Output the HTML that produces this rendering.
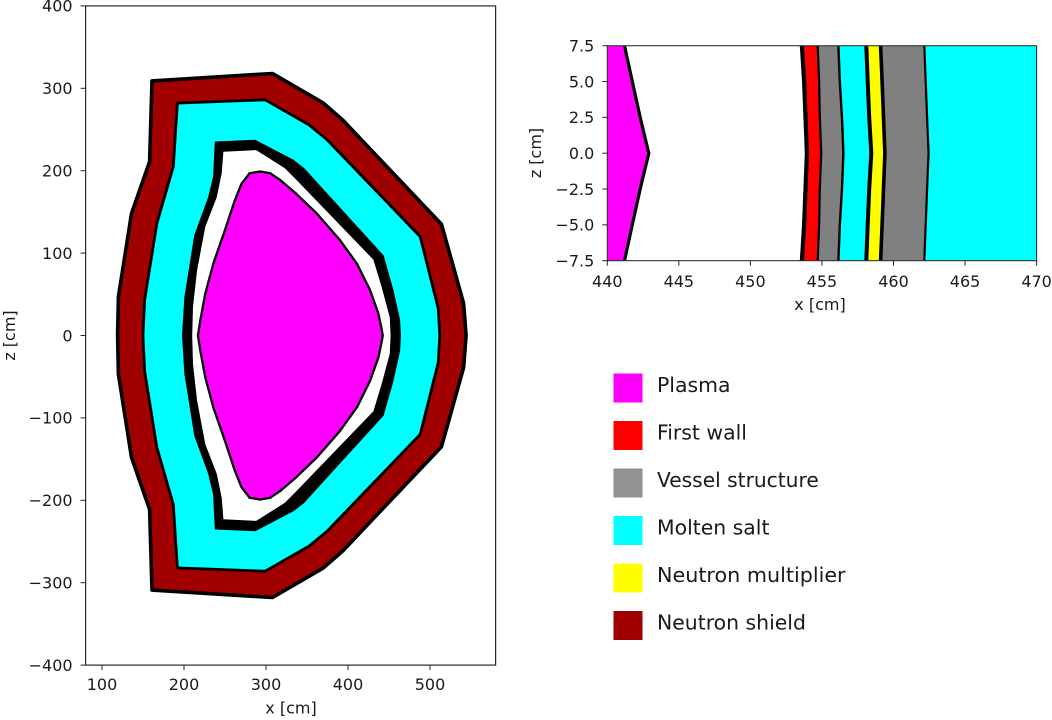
<!DOCTYPE html>
<html>
<head>
<meta charset="utf-8">
<style>
html,body{margin:0;padding:0;background:#fff;}
svg{display:block;filter:blur(0.35px);}
text{font-family:"DejaVu Sans","Liberation Sans",sans-serif;fill:#1a1a1a;}
</style>
</head>
<body>
<svg id="chart" xmlns="http://www.w3.org/2000/svg" width="1052" height="720" viewBox="0 0 1052 720">
  <g id="left-plot"></g>
  <g id="right-plot"></g>
  <g>
    <g><rect x="613.5" y="373.5" width="29" height="29" fill="#ff00ff"/><text x="657" y="392" font-size="20.4">Plasma</text></g>
    <g><rect x="613.5" y="421" width="29" height="29" fill="#ff0000"/><text x="657" y="439.5" font-size="20.4">First wall</text></g>
    <g><rect x="613.5" y="468.5" width="29" height="29" fill="#929292"/><text x="657" y="487" font-size="20.2">Vessel structure</text></g>
    <g><rect x="613.5" y="516" width="29" height="29" fill="#00ffff"/><text x="657" y="534.5" font-size="20.4">Molten salt</text></g>
    <g><rect x="613.5" y="563.5" width="29" height="29" fill="#ffff00"/><text x="657" y="582" font-size="20.7">Neutron multiplier</text></g>
    <g><rect x="613.5" y="611" width="29" height="29" fill="#a00000"/><text x="657" y="629.5" font-size="20.4">Neutron shield</text></g>
  </g>
</svg>
<script>
// ---- Left plot data: [x cm, z cm] outlines ----
const shieldOutline = [[161,309],[308,318],[370,282],[394,261],[514,135],[541,39],[544,0],[541,-39],[514,-135],[394,-261],[370,-282],[308,-318],[161,-309],[158,-211],[136,-148],[120,-47],[119,0],[120,47],[136,148],[158,211]];
const saltOutline = [[192,282],[299,286],[352,256],[374,238],[488,120],[510,33],[512,0],[510,-33],[488,-120],[374,-238],[352,-256],[299,-286],[192,-282],[187,-205],[167,-136],[152,-43],[150,0],[152,43],[167,136],[187,205]];
const vesselOutline = [[238,235],[287,237],[333,213],[346,203],[443,97],[455,55],[463,19],[464,0],[463,-19],[455,-55],[443,-97],[346,-203],[333,-213],[287,-237],[238,-235],[236,-193],[230,-168],[213,-122],[201,-47],[198,0],[201,47],[213,122],[230,168],[236,193]];
const gapOutline = [[248,223],[288,225],[323,203],[337,189],[431,92],[441,59],[451,22],[452,0],[451,-22],[441,-59],[431,-92],[337,-189],[323,-203],[288,-225],[248,-223],[246,-197],[240,-168],[226,-132],[216,-79],[211,-35],[210,0],[211,35],[216,79],[226,132],[240,168],[246,197]];
const plasmaOutline = [[293,199],[305,197],[317,189],[337,172],[362,148],[390,116],[411,87],[427,55],[437,27],[441,8],[442.5,0],[441,-8],[437,-27],[427,-55],[411,-87],[390,-116],[362,-148],[337,-172],[317,-189],[305,-197],[293,-199],[280,-197],[270,-184],[262,-164],[250,-128],[236,-88],[226,-51],[220,-19],[217,0],[220,19],[226,51],[236,88],[250,128],[262,164],[270,184],[280,197]];
const leftXTicks = [100,200,300,400,500];
const leftZTicks = [-400,-300,-200,-100,0,100,200,300,400];

// ---- Right plot data: boundary x [cm] sampled at z [cm] ----
const detailZ = [7.5,5,2.5,0,-2.5,-5,-7.5];
const plasmaEdge = [441.2,441.75,442.3,442.9,442.3,441.75,441.2];
const firstWallInner = [453.6,453.75,453.85,453.95,453.85,453.75,453.6];
const firstWallOuter = [454.7,454.8,454.85,454.95,454.85,454.8,454.7];
const vesselOuter1 = [456.15,456.25,456.4,456.5,456.4,456.25,456.15];
const multiplierInner = [458.1,458.2,458.3,458.45,458.3,458.2,458.1];
const multiplierOuter = [459.1,459.2,459.3,459.4,459.3,459.2,459.1];
const vesselOuter2 = [462.15,462.25,462.35,462.45,462.35,462.25,462.15];
const detailXTicks = [440,445,450,455,460,465,470];
const detailZTicks = [-7.5,-5,-2.5,0,2.5,5,7.5];

const NS = 'http://www.w3.org/2000/svg';
function el(parent, tag, attrs, txt){
  const e = document.createElementNS(NS, tag);
  for (const k in attrs) e.setAttribute(k, attrs[k]);
  if (txt !== undefined) e.textContent = txt;
  parent.appendChild(e);
  return e;
}
function fmt(v, d){ const s = d ? v.toFixed(d) : String(v); return s.replace('-', '\u2212'); }

// axis functions
const lx = v => 102 + (v - 100) * 0.82;
const lz = v => 335.5 - v * 0.824;
const rx = v => 607.3 + (v - 440) * 14.31;
const rz = v => 153.2 - v * 14.33;

const left = document.getElementById('left-plot');
const right = document.getElementById('right-plot');

function outline(list){ return list.map(p => lx(p[0]).toFixed(1) + ',' + lz(p[1]).toFixed(1)).join(' '); }

const shieldPoly = el(left, 'polygon', {points: outline(shieldOutline), fill:'#a00000', stroke:'#000', 'stroke-width':3.6, 'stroke-linejoin':'round'});


const saltPoly = el(left, 'polygon', {points: outline(saltOutline), fill:'#00ffff', stroke:'#000', 'stroke-width':2.8, 'stroke-linejoin':'round'});


const vesselPoly = el(left, 'polygon', {points: outline(vesselOutline), fill:'#000', stroke:'#000', 'stroke-width':0.8, 'stroke-linejoin':'round'});


const gapPoly = el(left, 'polygon', {points: outline(gapOutline), fill:'#fff'});


const plasmaPoly = el(left, 'polygon', {points: outline(plasmaOutline), fill:'#ff00ff', stroke:'#000', 'stroke-width':2.3, 'stroke-linejoin':'round'});



// left axes
const lxMinPx = lx(80), lxMaxPx = lx(580), lzTopPx = lz(400), lzBotPx = lz(-400);
const leftFrame = el(left, 'rect', {x:lxMinPx, y:lzTopPx, width:lxMaxPx-lxMinPx, height:lzBotPx-lzTopPx, fill:'none', stroke:'#2a2a2a', 'stroke-width':1.2});


leftXTicks.forEach(v => {
  const t = el(left, 'line', {x1:lx(v), x2:lx(v), y1:lzBotPx, y2:lzBotPx+5, stroke:'#222', 'stroke-width':1});
  
  
  const l = el(left, 'text', {x:lx(v), y:690, 'font-size':16, 'text-anchor':'middle'}, fmt(v));
  
  
});
leftZTicks.forEach(v => {
  const t = el(left, 'line', {x1:lxMinPx-5, x2:lxMinPx, y1:lz(v), y2:lz(v), stroke:'#222', 'stroke-width':1});
  
  
  const l = el(left, 'text', {x:lxMinPx-13, y:lz(v)+5.8, 'font-size':16, 'text-anchor':'end'}, fmt(v));
  
  
});
const leftXTitle = el(left, 'text', {x:291, y:713.5, 'font-size':16, 'text-anchor':'middle'}, 'x [cm]');


const leftZTitle = el(left, 'text', {x:0, y:0, 'font-size':16, 'text-anchor':'middle', transform:'translate(15,335.5) rotate(-90)'}, 'z [cm]');



// right plot
function linePts(xs){ return xs.map((x,i) => rx(x).toFixed(1) + ',' + rz(detailZ[i]).toFixed(1)); }
function band(xsA, xsB){ return linePts(xsA).concat(linePts(xsB).reverse()).join(' '); }

const clip = el(right, 'clipPath', {id:'detail-clip'});
el(clip, 'rect', {x:rx(440), y:rz(7.5), width:rx(470)-rx(440), height:rz(-7.5)-rz(7.5)});
const detail = el(right, 'g', {'clip-path':'url(#detail-clip)'});



const farEdge = detailZ.map(() => 470);
const nearEdge = detailZ.map(() => 440);
const bPlasma = el(detail, 'polygon', {points: band(nearEdge, plasmaEdge), fill:'#ff00ff'});


const bWall = el(detail, 'polygon', {points: band(firstWallInner, firstWallOuter), fill:'#ff0000'});


const bVessel1 = el(detail, 'polygon', {points: band(firstWallOuter, vesselOuter1), fill:'#808080'});


const bSalt1 = el(detail, 'polygon', {points: band(vesselOuter1, multiplierInner), fill:'#00ffff'});


const bMult = el(detail, 'polygon', {points: band(multiplierInner, multiplierOuter), fill:'#ffff00'});


const bVessel2 = el(detail, 'polygon', {points: band(multiplierOuter, vesselOuter2), fill:'#808080'});


const bSalt2 = el(detail, 'polygon', {points: band(vesselOuter2, farEdge), fill:'#00ffff'});



const lPlasma = el(detail, 'polyline', {points: linePts(plasmaEdge).join(' '), fill:'none', stroke:'#000', 'stroke-width':3.2});


const lWallIn = el(detail, 'polyline', {points: linePts(firstWallInner).join(' '), fill:'none', stroke:'#000', 'stroke-width':4.2});


const lWallOut = el(detail, 'polyline', {points: linePts(firstWallOuter).join(' '), fill:'none', stroke:'#000', 'stroke-width':2.2});


const lVessel1 = el(detail, 'polyline', {points: linePts(vesselOuter1).join(' '), fill:'none', stroke:'#000', 'stroke-width':2.4});


const lMultIn = el(detail, 'polyline', {points: linePts(multiplierInner).join(' '), fill:'none', stroke:'#000', 'stroke-width':4});


const lMultOut = el(detail, 'polyline', {points: linePts(multiplierOuter).join(' '), fill:'none', stroke:'#000', 'stroke-width':3.6});


const lVessel2 = el(detail, 'polyline', {points: linePts(vesselOuter2).join(' '), fill:'none', stroke:'#000', 'stroke-width':2.2});



const rightFrame = el(right, 'rect', {x:rx(440), y:rz(7.5), width:rx(470)-rx(440), height:rz(-7.5)-rz(7.5), fill:'none', stroke:'#333', 'stroke-width':1.1});


detailXTicks.forEach(v => {
  const t = el(right, 'line', {x1:rx(v), x2:rx(v), y1:rz(-7.5), y2:rz(-7.5)+5, stroke:'#222', 'stroke-width':1});
  
  
  const l = el(right, 'text', {x:rx(v), y:287, 'font-size':16, 'text-anchor':'middle'}, fmt(v));
  
  
});
detailZTicks.forEach(v => {
  const t = el(right, 'line', {x1:rx(440)-5, x2:rx(440), y1:rz(v), y2:rz(v), stroke:'#222', 'stroke-width':1});
  
  
  const l = el(right, 'text', {x:rx(440)-13, y:rz(v)+5.8, 'font-size':16, 'text-anchor':'end'}, fmt(v, 1));
  
  
});
const rightXTitle = el(right, 'text', {x:820, y:310, 'font-size':16, 'text-anchor':'middle'}, 'x [cm]');


const rightZTitle = el(right, 'text', {x:0, y:0, 'font-size':16, 'text-anchor':'middle', transform:'translate(541,153) rotate(-90)'}, 'z [cm]');


</script>
</body>
</html>
